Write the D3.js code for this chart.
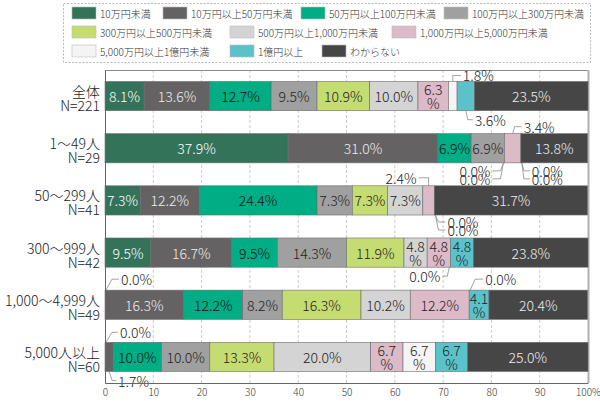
<!DOCTYPE html>
<html><head><meta charset="utf-8">
<script src="https://cdn.jsdelivr.net/npm/d3@7"></script>
<style>
html,body{margin:0;padding:0;background:#fff;}
svg{display:block;font-family:'Noto Sans CJK JP','Noto Sans',sans-serif;font-weight:300;}
</style></head>
<body>
<svg id="chart" width="600" height="401"></svg>
<script>
// ---------- data ----------
const categories = ["全体","1～49人","50～299人","300～999人","1,000～4,999人","5,000人以上"];
const sampleSizes = ["N=221","N=29","N=41","N=42","N=49","N=60"];
const seriesNames = ["10万円未満","10万円以上50万円未満","50万円以上100万円未満","100万円以上300万円未満",
  "300万円以上500万円未満","500万円以上1,000万円未満","1,000万円以上5,000万円未満",
  "5,000万円以上1億円未満","1億円以上","わからない"];
const sLt10    = [8.1, 37.9, 7.3, 9.5, 0.0, 0.0];
const s10to50  = [13.6, 31.0, 12.2, 16.7, 16.3, 1.7];
const s50to100 = [12.7, 6.9, 24.4, 9.5, 12.2, 10.0];
const s100to300= [9.5, 6.9, 7.3, 14.3, 8.2, 10.0];
const s300to500= [10.9, 0.0, 7.3, 11.9, 16.3, 13.3];
const s500to1k = [10.0, 0.0, 7.3, 4.8, 10.2, 20.0];
const s1kto5k  = [6.3, 3.4, 2.4, 4.8, 12.2, 6.7];
const s5kto1oku= [1.8, 0.0, 0.0, 0.0, 0.0, 6.7];
const sOver1oku= [3.6, 0.0, 0.0, 4.8, 4.1, 6.7];
const sUnknown = [23.5, 13.8, 31.7, 23.8, 20.4, 25.0];
const seriesValues = [sLt10,s10to50,s50to100,s100to300,s300to500,s500to1k,s1kto5k,s5kto1oku,sOver1oku,sUnknown];
const tickValues = [0,10,20,30,40,50,60,70,80,90,100];
const tickLabels = ["0","10","20","30","40","50","60","70","80","90","100%"];

// ---------- styles / layout ----------
const colors = ["#33735a","#656263","#00ad84","#a0a0a0","#c5dc70","#d4d4d4","#dcbac8","#f4f4f4","#5bc2ca","#464646"];
const textColors = ["#fff","#eee","#111","#222","#222","#222","#222","#222","#222","#eee"];
const legendPos = [[72,13],[163,13],[301,13],[444,13],[72,32],[230,32],[392,32],[72,51],[230,51],[322,51]];
// callouts: row, series, side(-1 top / 1 bottom), text dx from seg center, text dy from bar edge, elbow dx, anchor
const callouts = [
  [0,7,-1,10,-6,0,"start"],
  [0,8,1,9,9,2,"start"],
  [1,6,-1,11,-7,2,"start"],
  [1,4,1,-14,8,-4,"end"],
  [1,5,1,-14,16,-4,"end"],
  [1,7,1,11,8,3,"start"],
  [1,8,1,11,16,3,"start"],
  [2,6,-1,-12,-8,0,"end"],
  [2,7,1,13,7,4,"start"],
  [2,8,1,13,15,4,"start"],
  [3,7,1,-10,9,-3,"end"],
  [4,0,-1,16,-11,7,"start"],
  [4,7,-1,16,-11,6,"start"],
  [5,0,-1,15,-10,7,"start"],
  [5,1,1,9,9,3,"start"]
];
const labelSize = 14;

const svg = d3.select("#chart");
const m = {left:105, top:70};
const x = d3.scaleLinear().domain([0,100]).range([m.left, 588]);
const y = d3.scaleBand().domain(categories).range([m.top, 383]).paddingInner(0.44).paddingOuter(0.22);

// legend
const lg = svg.append("g");
lg.append("rect").attr("x",63.5).attr("y",3.5).attr("width",527).attr("height",59)
  .attr("fill","none").attr("stroke","#aaa").attr("stroke-dasharray","2,1.5").attr("stroke-width",0.8);
seriesNames.forEach((n,i)=>{
  const [lx,ly] = legendPos[i];
  lg.append("rect").attr("x",lx).attr("y",ly-6).attr("width",24).attr("height",12)
    .attr("fill",colors[i]).attr("stroke","#bbb").attr("stroke-width",0.6);
  lg.append("text").attr("x",lx+28).attr("y",ly).attr("dominant-baseline","central")
    .attr("font-size",10).attr("fill","#333").text(n);
});

// grid
const grid = svg.append("g");
tickValues.slice(1,-1).forEach(t=>{
  grid.append("line").attr("x1",x(t)).attr("x2",x(t)).attr("y1",m.top).attr("y2",383)
    .attr("stroke","#bdbdbd").attr("stroke-width",0.8).attr("stroke-dasharray","3,2");
});
// frame
svg.append("line").attr("x1",x(0)).attr("x2",x(100)+1).attr("y1",70.5).attr("y2",70.5).attr("stroke","#8a8a8a").attr("stroke-width",1.2);
svg.append("line").attr("x1",x(100)+0.5).attr("x2",x(100)+0.5).attr("y1",70).attr("y2",383).attr("stroke","#b0b0b0").attr("stroke-width",2);

// stacked bars
const stackData = categories.map((c,r)=>{
  let acc = 0;
  return seriesValues.map((s,i)=>{ const d = {row:r, cat:c, i, v:s[r], x0:acc, x1:acc+s[r]}; acc += s[r]; return d; });
});
const bars = svg.append("g");
stackData.forEach(row=>{
  row.forEach(d=>{
    if (d.v <= 0) return;
    bars.append("rect").attr("x",x(d.x0)).attr("y",y(d.cat)).attr("width",x(Math.min(d.x1,100))-x(d.x0))
      .attr("height",y.bandwidth()).attr("fill",colors[d.i]).attr("stroke","#6d6d6d").attr("stroke-width",0.6);
  });
});
// labels inside
const lbl = svg.append("g").attr("font-size",labelSize);
stackData.forEach(row=>{
  row.forEach(d=>{
    if (d.v < 4) return;
    const cx = (x(d.x0)+x(Math.min(d.x1,100)))/2, cy = y(d.cat)+y.bandwidth()/2;
    const txt = d.v.toFixed(1);
    const w = x(d.x1)-x(d.x0);
    if (w < 33) {
      lbl.append("text").attr("x",cx).attr("y",cy-7).attr("text-anchor","middle").attr("dominant-baseline","central").attr("fill",textColors[d.i]).text(txt);
      lbl.append("text").attr("x",cx).attr("y",cy+7).attr("text-anchor","middle").attr("dominant-baseline","central").attr("fill",textColors[d.i]).text("%");
    } else {
      lbl.append("text").attr("x",cx).attr("y",cy).attr("text-anchor","middle").attr("dominant-baseline","central").attr("fill",textColors[d.i]).text(txt+"%");
    }
  });
});
// callouts
const co = svg.append("g");
callouts.forEach(([r,i,side,dx,dy,ex,anchor])=>{
  const d = stackData[r][i];
  const sx = (x(d.x0)+x(d.x1))/2;
  const edge = side<0 ? y(d.cat) : y(d.cat)+y.bandwidth();
  const tx = sx+dx, ty = edge+dy;
  const endX = anchor==="start" ? tx-2 : tx+2;
  co.append("polyline").attr("points",[[sx+(d.v===0?(ex>0?1:-1):0),edge],[sx+ex,ty],[endX,ty]].map(p=>p.join(",")).join(" "))
    .attr("fill","none").attr("stroke","#8c8c8c").attr("stroke-width",0.8);
  co.append("text").attr("x",tx).attr("y",ty).attr("text-anchor",anchor).attr("dominant-baseline","central")
    .attr("font-size",labelSize).attr("fill","#222").text(d.v.toFixed(1)+"%");
});

// y axis labels
const yl = svg.append("g").attr("font-size",labelSize).attr("fill","#222");
categories.forEach((c,r)=>{
  const cy = y(c)+y.bandwidth()/2;
  yl.append("text").attr("x",100).attr("y",cy-5).attr("text-anchor","end").attr("dominant-baseline","central").text(c);
  yl.append("text").attr("x",100).attr("y",cy+9).attr("text-anchor","end").attr("dominant-baseline","central").text(sampleSizes[r]);
});

// axes
const xa = svg.append("g").attr("transform","translate(0,383)")
  .call(d3.axisBottom(x).tickValues(tickValues).tickFormat((t,k)=>tickLabels[k]).tickSize(0).tickPadding(6));
xa.select(".domain").attr("stroke","#666");
xa.selectAll("text").attr("font-size",10).attr("fill","#333").attr("font-family","'Noto Sans CJK JP','Noto Sans',sans-serif").attr("font-weight",300);
const ya = svg.append("g").attr("transform",`translate(${m.left},0)`)
  .call(d3.axisLeft(y).tickSize(0).tickFormat(""));
ya.select(".domain").attr("stroke","#666");
</script>
</body></html>
